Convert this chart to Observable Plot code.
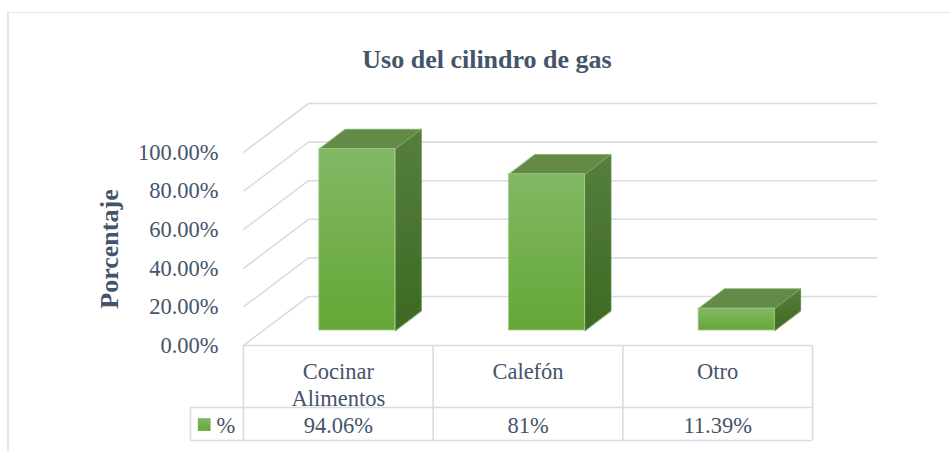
<!DOCTYPE html>
<html>
<head>
<meta charset="utf-8">
<script src="https://cdn.jsdelivr.net/npm/d3@7"></script>
<script src="https://cdn.jsdelivr.net/npm/@observablehq/plot@0.6"></script>
<style>
  html, body { margin: 0; padding: 0; background: #ffffff; }
  #wrap { position: relative; width: 950px; height: 451px; overflow: hidden; }
  #frame { position: absolute; left: 7px; top: 12px; width: 960px; height: 460px;
           border-left: 2px solid #e1e4ea; border-top: 1.5px solid #e4e6eb; pointer-events: none; }
  #wrap svg text { font-family: "Liberation Serif", "Times New Roman", serif; }
</style>
</head>
<body>
<div id="wrap"><div id="frame"></div></div>
<script>
// ---- data ----
const title = "Uso del cilindro de gas";
const yLabel = "Porcentaje";
const seriesName = "%";
const categories = ["Cocinar\nAlimentos", "Calefón", "Otro"];
const values = [94.06, 81, 11.39];
const valueLabels = ["94.06%", "81%", "11.39%"];
const yTicks = [0, 20, 40, 60, 80, 100];

// ---- layout (pixels) ----
const W = 950, H = 451, ML = 243, MR = 138, MT = 152, MB = 106;
const xu = (W - ML - MR) / categories.length;   // px per category
const yu = (H - MT - MB) / 100;                  // px per percent
const px2x = p => p / xu, px2y = p => p / yu;

const wallDX = px2x(65), wallDY = px2y(49);
const bOX = px2x(19), bOY = px2y(15), bHW = px2x(38), bDX = px2x(26), bDY = px2y(19.7);

const ink = "#44546a";
const grid = "#d9dce4";
const edge = "#9fcd82";
const serif = "Liberation Serif";

const topPts = values.flatMap((v, i) => {
  const xl = i + bOX - bHW, xr = i + bOX + bHW, yt = bOY + v;
  return [[xl, yt], [xr, yt], [xr + bDX, yt + bDY], [xl + bDX, yt + bDY]].map(([x, y]) => ({i, x, y}));
});
const sidePts = values.flatMap((v, i) => {
  const xr = i + bOX + bHW, yt = bOY + v;
  return [[xr, bOY], [xr, yt], [xr + bDX, yt + bDY], [xr + bDX, bOY + bDY]].map(([x, y]) => ({i, x, y}));
});

const legendLeft = -0.5 - px2x(53);
const rowY = -px2y(62), tableBottom = -px2y(95);

const defsMark = () => {
  const ns = "http://www.w3.org/2000/svg";
  const defs = document.createElementNS(ns, "defs");
  defs.innerHTML = `
    <linearGradient id="gFront" x1="0" y1="0" x2="0" y2="1">
      <stop offset="0" stop-color="#82b865"/><stop offset="1" stop-color="#64a736"/>
    </linearGradient>
    <linearGradient id="gSide" x1="0" y1="0" x2="0" y2="1">
      <stop offset="0" stop-color="#567f3e"/><stop offset="1" stop-color="#3d6921"/>
    </linearGradient>`;
  return defs;
};

const txt = {fontFamily: serif, fill: ink};

const chart = Plot.plot({
  width: W, height: H,
  marginLeft: ML, marginRight: MR, marginTop: MT, marginBottom: MB,
  x: {domain: [-0.5, categories.length - 0.5], axis: null},
  y: {domain: [0, 100], axis: null},
  style: {background: "transparent", fontFamily: serif},
  marks: [
    defsMark,
    // back wall gridlines
    Plot.link(yTicks, {x1: -0.5, y1: d => d, x2: -0.5 + wallDX, y2: d => d + wallDY, stroke: grid, strokeWidth: 1.6}),
    Plot.ruleY(yTicks, {y: d => d + wallDY, x1: -0.5 + wallDX, x2: categories.length - 0.5 + wallDX, stroke: grid, strokeWidth: 1.6}),
    // table grid
    Plot.ruleY([0], {x1: -0.5, x2: categories.length - 0.5, stroke: grid, strokeWidth: 1.6}),
    Plot.ruleY([rowY, tableBottom], {x1: legendLeft, x2: categories.length - 0.5, stroke: grid, strokeWidth: 1.6}),
    Plot.ruleX(d3.range(categories.length + 1).map(k => k - 0.5), {y1: 0, y2: tableBottom, stroke: grid, strokeWidth: 1.6}),
    Plot.ruleX([legendLeft], {y1: rowY, y2: tableBottom, stroke: grid, strokeWidth: 1.6}),
    // 3D bars
    Plot.line(sidePts, {x: "x", y: "y", z: "i", curve: "linear-closed", fill: "url(#gSide)", stroke: "#5f8f45", strokeWidth: 0.8}),
    Plot.line(topPts, {x: "x", y: "y", z: "i", curve: "linear-closed", fill: "#638b47", stroke: "#7fae62", strokeWidth: 0.8}),
    Plot.rect(values, {x1: (d, i) => i + bOX - bHW, x2: (d, i) => i + bOX + bHW, y1: bOY, y2: d => bOY + d,
      fill: "url(#gFront)", stroke: edge, strokeWidth: 0.8}),
    // y tick labels
    Plot.text(yTicks, {x: -0.5, y: d => d, text: d => d.toFixed(2) + "%", textAnchor: "end", dx: -25,
      fontSize: 22.5, ...txt}),
    // y axis title
    Plot.text([yLabel], {frameAnchor: "left", y: 50, dx: -134, rotate: -90, textAnchor: "middle",
      fontSize: 26, fontWeight: "bold", ...txt}),
    // title
    Plot.text([title], {frameAnchor: "top", textAnchor: "middle", dx: -41, dy: -103, fontSize: 26, fontWeight: "bold", ...txt}),
    // table: categories
    Plot.text(categories, {x: (d, i) => i, y: 0, lineAnchor: "top", dy: 13.5, lineHeight: 1.22, fontSize: 22.5, ...txt}),
    // table: values
    Plot.text(valueLabels, {x: (d, i) => i, y: 0, dy: 80, fontSize: 22.5, ...txt}),
    // legend key
    Plot.dot([seriesName], {x: -0.5, y: 0, dx: -39.3, dy: 79, symbol: "square", r: 7.2, fill: "url(#gFront)", stroke: "none"}),
    Plot.text([seriesName], {x: -0.5, y: 0, dx: -27, dy: 80, textAnchor: "start", fontSize: 22.5, ...txt})
  ]
});
document.getElementById("wrap").prepend(chart);
</script>
</body>
</html>
